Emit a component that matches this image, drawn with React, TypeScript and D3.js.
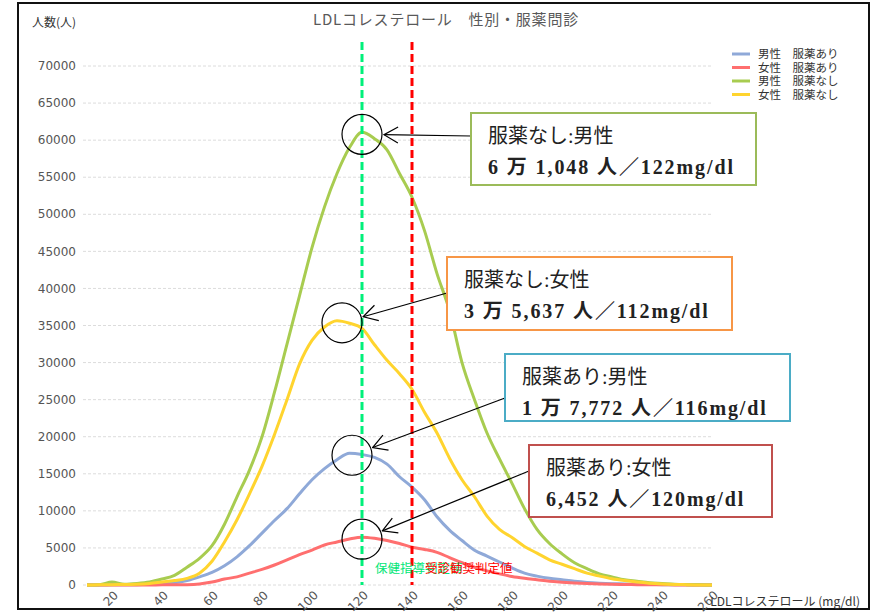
import React, { useRef, useEffect } from 'react'
import * as d3 from 'd3'

// LDL値 (mg/dl)
const ldl = [
  10, 15, 20, 25, 30, 35, 40, 45, 50, 55, 60, 65, 70, 75, 80, 85, 90, 95, 100, 105, 110, 115, 120, 125, 130, 135,
  140, 145, 150, 155, 160, 165, 170, 175, 180, 185, 190, 195, 200, 205, 210, 215, 220, 225, 230, 235, 240, 245, 250,
  255, 260,
]
const maleMed = [
  0, 0, 20, 30, 50, 100, 150, 300, 600, 1100, 1700, 2600, 3800, 5300, 7000, 8700, 10300, 12300, 14200, 15700, 16900,
  17772, 17600, 17200, 16300, 14600, 13200, 11500, 9200, 7400, 6000, 4700, 3900, 3100, 2300, 1600, 1200, 900, 700, 500,
  350, 250, 180, 140, 100, 70, 50, 35, 20, 10, 0,
]
const femaleMed = [
  0, 0, 0, 0, 0, 10, 20, 30, 50, 150, 400, 800, 1100, 1600, 2100, 2700, 3400, 4100, 4700, 5400, 5800, 6200, 6452, 6300,
  6000, 5600, 5100, 4800, 4400, 3700, 3000, 2400, 1900, 1500, 1150, 900, 700, 500, 380, 280, 200, 150, 100, 70, 50, 35,
  20, 15, 10, 5, 0,
]
const maleNoMed = [
  0, 50, 400, 100, 200, 400, 800, 1300, 2400, 3600, 5300, 8200, 11900, 15500, 20000, 26000, 32500, 39000, 45500, 51000,
  55500, 59000, 61048, 60200, 58700, 55500, 52300, 47800, 42000, 37000, 30000, 25000, 20500, 17000, 13700, 10300, 7500,
  5600, 4200, 3000, 2200, 1500, 1100, 700, 500, 300, 200, 100, 50, 20, 0,
]
const femaleNoMed = [
  0, 20, 50, 60, 100, 200, 400, 600, 900, 1600, 3200, 5800, 8800, 12300, 16000, 20300, 25000, 29800, 33000, 34800,
  35637, 35300, 34600, 32400, 30300, 28500, 26400, 23300, 20500, 17100, 14200, 11900, 9300, 7500, 6400, 5200, 4300,
  3400, 2800, 2200, 1600, 1200, 850, 600, 400, 250, 150, 80, 40, 10, 0,
]
const seriesNames = ['男性　服薬あり', '女性　服薬あり', '男性　服薬なし', '女性　服薬なし']
const seriesColors = ['#8fa9d8', '#ff6f6f', '#a8cc50', '#ffd42e']
const yTicks = [0, 5000, 10000, 15000, 20000, 25000, 30000, 35000, 40000, 45000, 50000, 55000, 60000, 65000, 70000]
const xTicks = [20, 40, 60, 80, 100, 120, 140, 160, 180, 200, 220, 240, 260]

// 吹き出し (ピーク値)  box: x, y, w, h, arrow anchor offset
const notes = [
  { title: '服薬なし:男性', text: '6 万 1,048 人／122mg/dl', peakX: 120, peakY: 61048, color: '#9bbb59', box: [471, 113, 285, 72, 23] },
  { title: '服薬なし:女性', text: '3 万 5,637 人／112mg/dl', peakX: 112, peakY: 35637, color: '#f79646', box: [447, 257, 285, 73, 36] },
  { title: '服薬あり:男性', text: '1 万 7,772 人／116mg/dl', peakX: 116, peakY: 17772, color: '#4bacc6', box: [505, 354, 285, 67, 44] },
  { title: '服薬あり:女性', text: '6,452 人／120mg/dl', peakX: 120, peakY: 6452, color: '#c0504d', box: [529, 445, 243, 72, 26] },
]

const renderChart = (svg: SVGSVGElement) => {
  const width = 872
  const height = 614
  const svgD3 = d3.select(svg)
  svgD3.selectAll('*').remove()

  const xScale = d3.scaleLinear().domain([0, 260]).range([62, 712])
  const yScale = d3.scaleLinear().domain([0, 70000]).range([585, 66])
  const jp = '"Noto Sans CJK JP", sans-serif'
  const num = '"DejaVu Sans", sans-serif'
  const serif = '"Liberation Serif", "Noto Sans CJK JP", serif'

  svgD3.append('rect').attr('width', width).attr('height', height).attr('fill', '#fff')
  svgD3
    .append('rect')
    .attr('x', 18)
    .attr('y', 3)
    .attr('width', 851)
    .attr('height', 606)
    .attr('fill', 'none')
    .attr('stroke', '#111')
    .attr('stroke-width', 2)

  // grid + y ticks
  const grid = svgD3.append('g')
  yTicks.forEach((t) => {
    grid
      .append('line')
      .attr('x1', 83)
      .attr('x2', 712)
      .attr('y1', yScale(t))
      .attr('y2', yScale(t))
      .attr('stroke', '#dcdcdc')
      .attr('stroke-dasharray', '3,2')
    grid
      .append('text')
      .attr('x', 76)
      .attr('y', yScale(t))
      .attr('dy', '0.35em')
      .attr('text-anchor', 'end')
      .attr('font-family', num)
      .attr('font-size', 12)
      .attr('fill', '#555')
      .text(t)
  })
  xTicks.forEach((t) => {
    grid
      .append('text')
      .attr('transform', `translate(${xScale(t) + 4}, ${593}) rotate(-45)`)
      .attr('text-anchor', 'end')
      .attr('dy', '0.35em')
      .attr('font-family', num)
      .attr('font-size', 12)
      .attr('fill', '#555')
      .text(t)
  })

  // titles
  svgD3
    .append('text')
    .attr('x', 446)
    .attr('y', 25)
    .attr('text-anchor', 'middle')
    .attr('font-family', jp)
    .attr('font-size', 15)
    .attr('letter-spacing', 0.8)
    .attr('fill', '#595959')
    .text('LDLコレステロール　性別・服薬問診')
  svgD3
    .append('text')
    .attr('x', 32)
    .attr('y', 27)
    .attr('font-family', jp)
    .attr('font-size', 12)
    .attr('fill', '#333')
    .text('人数(人)')
  svgD3
    .append('text')
    .attr('x', 860)
    .attr('y', 606)
    .attr('text-anchor', 'end')
    .attr('font-family', jp)
    .attr('font-size', 12)
    .attr('fill', '#333')
    .text('LDLコレステロール (mg/dl)')

  // lines
  const line = d3
    .line<number>()
    .x((d, i) => xScale(ldl[i]))
    .y((d) => yScale(d))
    .curve(d3.curveMonotoneX)
  const series = [maleMed, femaleMed, maleNoMed, femaleNoMed]
  series.forEach((s, k) => {
    svgD3
      .append('path')
      .datum(s)
      .attr('fill', 'none')
      .attr('stroke', seriesColors[k])
      .attr('stroke-width', 3)
      .attr('stroke-linejoin', 'round')
      .attr('d', line)
  })

  // 判定値 lines
  const refs = [
    { v: 120, color: '#00f07a', label: '保健指導判定値' },
    { v: 140, color: '#ff0000', label: '受診勧奨判定値' },
  ]
  refs.forEach((r) => {
    svgD3
      .append('line')
      .attr('x1', xScale(r.v))
      .attr('x2', xScale(r.v))
      .attr('y1', 42)
      .attr('y2', 585)
      .attr('stroke', r.color)
      .attr('stroke-width', 3)
      .attr('stroke-dasharray', '8,4')
  })
  svgD3
    .append('text')
    .attr('x', 375)
    .attr('y', 573)
    .attr('font-family', jp)
    .attr('font-size', 12.5)
    .attr('fill', '#00e676')
    .text(refs[0].label)
  svgD3
    .append('text')
    .attr('x', 425)
    .attr('y', 573)
    .attr('font-family', jp)
    .attr('font-size', 12.5)
    .attr('fill', '#ff0000')
    .text(refs[1].label)

  // legend
  const legend = svgD3.append('g')
  seriesNames.forEach((n, k) => {
    const y = 54 + k * 13.5
    legend
      .append('line')
      .attr('x1', 732)
      .attr('x2', 750)
      .attr('y1', y)
      .attr('y2', y)
      .attr('stroke', seriesColors[k])
      .attr('stroke-width', 3)
    legend
      .append('text')
      .attr('x', 758)
      .attr('y', y)
      .attr('dy', '0.35em')
      .attr('font-family', jp)
      .attr('font-size', 11.5)
      .attr('fill', '#333')
      .text(n)
  })

  // annotations
  const defs = svgD3.append('defs')
  defs
    .append('marker')
    .attr('id', 'arrowOpen')
    .attr('viewBox', '0 0 16 20')
    .attr('refX', 15)
    .attr('refY', 10)
    .attr('markerWidth', 16)
    .attr('markerHeight', 20)
    .attr('markerUnits', 'userSpaceOnUse')
    .attr('orient', 'auto')
    .append('path')
    .attr('d', 'M1,2 L15,10 L1,18')
    .attr('fill', 'none')
    .attr('stroke', '#000')
    .attr('stroke-width', 1.2)

  notes.forEach((n) => {
    const cx = xScale(n.peakX)
    const cy = yScale(n.peakY) + 2
    const [bx, by, bw, bh, ay] = n.box
    svgD3
      .append('circle')
      .attr('cx', cx)
      .attr('cy', cy)
      .attr('r', 20)
      .attr('fill', 'none')
      .attr('stroke', '#000')
      .attr('stroke-width', 1.2)
    // arrow from box edge to circle edge
    const sx = bx
    const sy = by + ay
    const ang = Math.atan2(sy - cy, sx - cx)
    const ex = cx + Math.cos(ang) * 22
    const ey = cy + Math.sin(ang) * 22
    svgD3
      .append('line')
      .attr('x1', sx)
      .attr('y1', sy)
      .attr('x2', ex)
      .attr('y2', ey)
      .attr('stroke', '#000')
      .attr('stroke-width', 1.2)
      .attr('marker-end', 'url(#arrowOpen)')
    svgD3
      .append('rect')
      .attr('x', bx)
      .attr('y', by)
      .attr('width', bw)
      .attr('height', bh)
      .attr('fill', '#fff')
      .attr('stroke', n.color)
      .attr('stroke-width', 2)
    svgD3
      .append('text')
      .attr('x', bx + 17)
      .attr('y', by + 30)
      .attr('font-family', serif)
      .attr('font-size', 20)
      .attr('fill', '#222')
      .text(n.title)
    svgD3
      .append('text')
      .attr('x', bx + 17)
      .attr('y', by + 61)
      .attr('font-family', serif)
      .attr('font-size', 20)
      .attr('font-weight', 'bold')
      .attr('letter-spacing', 1.9)
      .attr('fill', '#222')
      .text(n.text)
  })
}

export default function App() {
  const svgRef = useRef<SVGSVGElement>(null)
  useEffect(() => {
    if (svgRef.current) renderChart(svgRef.current)
  }, [])
  return (
    <svg
      ref={svgRef}
      width={872}
      height={614}
      style={{ position: 'absolute', left: 0, top: 0, display: 'block' }}
    />
  )
}
